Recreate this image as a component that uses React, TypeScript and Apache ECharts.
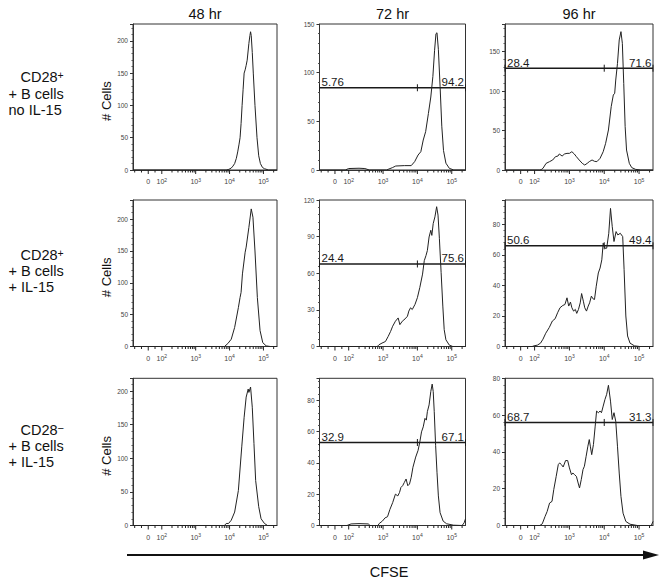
import React, { useEffect, useRef } from 'react';
import * as echarts from 'echarts';

// ---------- DATA ----------
const timepoints = ['48 hr', '72 hr', '96 hr'];
const conditionLines = [
  ['CD28', '+ B cells', 'no IL-15'],
  ['CD28', '+ B cells', '+ IL-15'],
  ['CD28', '+ B cells', '+ IL-15'],
];
const conditionSigns = ['+', '+', '\u2212'];
const yAxisName = '# Cells';
const xAxisTitle = 'CFSE';

// CFSE tick values (biexponential axis) and their labels: [base, exponent]
const xLabelValues = [0, 100, 1000, 10000, 100000];
const xLabelTexts = [['0', ''], ['10', '2'], ['10', '3'], ['10', '4'], ['10', '5']];
const xMajorTickValues = [0, 100, 1000, 10000, 100000];
const xMinorTickValues = [
  -100, -50, 50,
  200, 300, 400, 500, 600, 700, 800, 900,
  2000, 3000, 4000, 5000, 6000, 7000, 8000, 9000,
  20000, 30000, 40000, 50000, 60000, 70000, 80000, 90000,
  200000,
];

// y axis ranges per panel [row][col]
const yMax = [
  [226, 150, 185],
  [230, 120, 96],
  [219, 94, 80],
];
const yStep = [
  [50, 50, 50],
  [50, 30, 20],
  [50, 20, 20],
];

// gates: split position (log10 CFSE), y level, left %, right %
type Gate = { split: number; level: number; left: string; right: string } | null;
const gates: Gate[][] = [
  [null, { split: 4, level: 84.5, left: '5.76', right: '94.2' }, { split: 4, level: 129, left: '28.4', right: '71.6' }],
  [null, { split: 4, level: 67.6, left: '24.4', right: '75.6' }, { split: 4, level: 66, left: '50.6', right: '49.4' }],
  [null, { split: 4, level: 53, left: '32.9', right: '67.1' }, { split: 4, level: 56, left: '68.7', right: '31.3' }],
];

// histograms: [CFSE position in decades on the biexponential scale, # cells]
const histR1C1 = [[1.15,0],[3.9,0],[3.98,1],[4.05,3],[4.1,6],[4.15,10],[4.2,18],[4.24,28],[4.28,40],[4.31,50],[4.34,72],[4.37,100],[4.4,125],[4.43,150],[4.46,155],[4.49,162],[4.52,170],[4.57,196],[4.6,208],[4.62,214],[4.64,208],[4.67,182],[4.7,150],[4.75,100],[4.81,50],[4.86,22],[4.91,10],[4.97,4],[5.03,2],[5.15,0],[5.4,0]];
const histR1C2 = [[1.15,0],[1.9,0],[2.0,1.5],[2.3,1.8],[2.47,1.5],[2.6,0],[3.1,0],[3.17,1],[3.27,2.4],[3.37,4.1],[3.62,4.5],[3.82,4.5],[3.92,8.6],[4.02,15.4],[4.1,18.8],[4.17,30.8],[4.24,39.4],[4.32,58],[4.39,75],[4.45,96],[4.5,123],[4.54,140],[4.57,141],[4.61,124],[4.66,86],[4.71,45],[4.76,20],[4.83,7],[4.93,1.7],[5.06,0],[5.4,0]];
const histR1C3 = [[1.15,0],[2.15,0],[2.19,0.5],[2.24,2.1],[2.33,8.4],[2.43,10.6],[2.52,12.7],[2.6,16.9],[2.67,17.7],[2.71,20.3],[2.79,17.7],[2.86,20.3],[2.93,21.1],[3.0,21.1],[3.07,23.2],[3.14,20.3],[3.2,16.9],[3.28,12.7],[3.37,8.4],[3.44,6.3],[3.51,8.4],[3.57,10.6],[3.65,12.7],[3.72,11],[3.79,10.6],[3.88,14.8],[3.97,23.2],[4.04,33.8],[4.12,50.7],[4.2,80.3],[4.26,95],[4.3,97.2],[4.33,114],[4.38,135],[4.43,164.8],[4.48,175.3],[4.52,160.5],[4.56,109.8],[4.6,54.9],[4.64,25.3],[4.72,8.4],[4.79,3],[4.9,0.8],[5.05,0],[5.4,0]];
const histR2C1 = [[1.15,0],[3.85,0],[3.95,4.7],[4.05,11.5],[4.15,30],[4.26,61],[4.31,77],[4.34,85],[4.38,114],[4.46,148],[4.49,156],[4.57,187],[4.64,216],[4.69,203],[4.75,150],[4.82,77],[4.9,25],[4.98,6],[5.08,1],[5.2,0],[5.4,0]];
const histR2C2 = [[1.15,0],[2.83,0],[2.88,1.4],[2.97,2.8],[3.07,4.1],[3.15,8.3],[3.22,12.4],[3.28,16.6],[3.36,20.7],[3.44,23.4],[3.49,17.9],[3.56,20.7],[3.64,22.6],[3.71,24.8],[3.75,29],[3.8,31.7],[3.85,30.3],[3.93,34.5],[4.0,40],[4.07,48.3],[4.15,59.3],[4.2,70.3],[4.25,74.5],[4.29,78.6],[4.34,89.7],[4.39,95.2],[4.42,91],[4.46,100.7],[4.51,106.2],[4.56,114.5],[4.6,107.6],[4.64,88.3],[4.69,60.7],[4.74,33.1],[4.78,13.8],[4.83,5.5],[4.93,1.1],[5.03,0],[5.4,0]];
const histR2C3 = [[1.15,0],[1.93,0],[1.98,0.4],[2.08,0.9],[2.17,2.2],[2.24,4.8],[2.32,8.7],[2.42,12.4],[2.51,16.7],[2.59,18.2],[2.66,22.1],[2.73,25.4],[2.81,26.9],[2.87,27.5],[2.93,31.9],[2.98,26.5],[3.03,29.1],[3.07,25.4],[3.12,23.2],[3.17,24.3],[3.21,21.7],[3.26,24.3],[3.31,28.6],[3.35,34.7],[3.4,29.7],[3.44,25.4],[3.49,23.2],[3.54,26.5],[3.58,28.6],[3.63,33],[3.68,31.2],[3.72,30.8],[3.77,39.5],[3.83,48.2],[3.88,51.4],[3.93,56.8],[3.97,67.7],[4.02,64.4],[4.07,64.4],[4.13,74.2],[4.18,90.5],[4.23,78.5],[4.28,68.8],[4.34,75.3],[4.39,73.1],[4.46,74.2],[4.53,72],[4.57,50.3],[4.62,20],[4.67,6.9],[4.74,2.2],[4.87,0.4],[5.02,0],[5.4,0]];
const histR3C1 = [[1.15,0],[3.85,0],[3.9,3],[3.97,3],[4.05,7.9],[4.15,20],[4.26,52],[4.36,117],[4.43,161],[4.49,191],[4.55,203],[4.57,198],[4.62,206],[4.67,176],[4.72,122],[4.77,67],[4.86,28],[4.93,10],[5.03,3],[5.12,0],[5.4,0]];
const histR3C2 = [[1.15,0],[1.95,0],[2.07,1],[2.3,1.2],[2.57,1],[2.62,0],[2.85,0],[2.89,1.3],[2.98,2.8],[3.06,4.9],[3.13,5.6],[3.2,10.3],[3.28,14.6],[3.36,20],[3.43,18.9],[3.48,21.1],[3.52,24.3],[3.57,25.4],[3.62,27.5],[3.67,29.7],[3.72,25.4],[3.77,26.5],[3.82,30.8],[3.87,37.2],[3.95,43.7],[4.02,48],[4.07,53.3],[4.12,59.8],[4.17,63],[4.22,68.4],[4.26,67.3],[4.29,72.7],[4.34,77],[4.39,85.6],[4.43,90.3],[4.46,85.6],[4.49,72.7],[4.53,51.2],[4.57,34],[4.61,18.9],[4.66,8.2],[4.75,2.8],[4.85,1.1],[5.05,0.2],[5.3,0],[5.36,1.7],[5.4,4.3]];
const histR3C3 = [[1.15,0],[2.15,0],[2.22,0.9],[2.3,4.9],[2.36,7.6],[2.43,12.2],[2.5,13.1],[2.55,19.5],[2.62,26.7],[2.68,33.1],[2.72,34],[2.77,33.1],[2.82,31.8],[2.89,35.3],[2.95,35.3],[3.0,31.3],[3.06,27.6],[3.1,28.5],[3.15,27.6],[3.2,26.7],[3.25,23.1],[3.29,20.4],[3.34,24.9],[3.39,30.4],[3.43,32.2],[3.48,37.6],[3.53,43.1],[3.57,46.7],[3.6,43.1],[3.64,38.5],[3.69,44],[3.74,54],[3.78,62.2],[3.83,61.3],[3.88,62.2],[3.92,61.3],[3.97,64.9],[4.02,68.5],[4.07,71.3],[4.12,76.2],[4.18,67.6],[4.23,57.6],[4.28,61.3],[4.33,56.7],[4.38,43.1],[4.43,28.5],[4.48,15.8],[4.54,6.7],[4.62,2.2],[4.74,0.7],[4.95,0],[5.35,0],[5.4,2.2]];

const histograms = [
  [histR1C1, histR1C2, histR1C3],
  [histR2C1, histR2C2, histR2C3],
  [histR3C1, histR3C2, histR3C3],
];

// ---------- LAYOUT ----------
const FONT = '"Liberation Sans", Arial, Helvetica, sans-serif';
const X_MIN = 1.15;
const X_MAX = 5.4;
const colLeft = [133, 319.5, 505];
const colWidth = [144, 146, 148];
const rowTop = [24, 200, 378.3];
const rowHeight = [146, 146.5, 147.2];
const rowLabelY = [[77, 93.5, 110], [255, 271, 287], [430, 446, 462]];

// biexponential-like transform: linear near zero, log above 100
const toU = (v: number) => (v <= 100 ? 1.6 + (0.4 * v) / 100 : Math.log10(v));

function buildOption() {
  const grid: any[] = [];
  const xAxis: any[] = [];
  const yAxis: any[] = [];
  const series: any[] = [];
  const tickData = [
    ...xMajorTickValues.map((v) => [toU(v), 1]),
    ...xMinorTickValues.map((v) => [toU(v), 0]),
  ];

  for (let r = 0; r < 3; r++) {
    for (let c = 0; c < 3; c++) {
      const k = r * 3 + c;
      const step = yStep[r][c];
      grid.push({
        left: colLeft[c], top: rowTop[r], width: colWidth[c], height: rowHeight[r],
        show: true, borderColor: '#333', borderWidth: 1, backgroundColor: 'transparent',
      });
      xAxis.push({
        type: 'value', gridIndex: k, min: X_MIN, max: X_MAX, interval: 0.05,
        axisLine: { show: true, onZero: false, lineStyle: { color: '#333', width: 1 } },
        axisTick: { show: false },
        splitLine: { show: false },
        axisLabel: {
          margin: 7,
          formatter: (v: number) => {
            const i = xLabelValues.findIndex((x) => Math.abs(toU(x) - v) < 1e-6);
            if (i < 0) return '';
            const [b, e] = xLabelTexts[i];
            return e ? `{b|${b}}{s|${e}}` : `{b|${b}}`;
          },
          rich: {
            b: { fontSize: 7, color: '#444', fontFamily: FONT, lineHeight: 9 },
            s: { fontSize: 5, color: '#444', fontFamily: FONT, lineHeight: 5, verticalAlign: 'top' },
          },
        },
      });
      yAxis.push({
        type: 'value', gridIndex: k, min: 0, max: yMax[r][c], interval: step,
        axisLine: { show: true, lineStyle: { color: '#333', width: 1 } },
        axisTick: { show: true, length: 3, lineStyle: { color: '#333' } },
        minorTick: { show: true, splitNumber: 5, length: 1.5, lineStyle: { color: '#555' } },
        splitLine: { show: false },
        axisLabel: {
          fontSize: 6.5, color: '#444', margin: 5, fontFamily: FONT,
          formatter: (v: number) => (Math.abs(v % step) < 1e-9 ? String(v) : ''),
        },
      });
      series.push({
        type: 'line', xAxisIndex: k, yAxisIndex: k, data: histograms[r][c],
        showSymbol: false, symbol: 'none', silent: true, clip: true,
        lineStyle: { color: '#222', width: 1 },
      });
      series.push({
        type: 'custom', xAxisIndex: k, yAxisIndex: k, data: tickData, clip: false, silent: true,
        renderItem: (_p: any, api: any) => {
          const p = api.coord([api.value(0), 0]);
          const len = api.value(1) ? 4 : 2.5;
          return {
            type: 'line',
            shape: { x1: p[0], y1: p[1], x2: p[0], y2: p[1] + len },
            style: { stroke: '#222', lineWidth: 1 },
          };
        },
      });
      const gate = gates[r][c];
      if (gate) {
        series.push({
          type: 'custom', xAxisIndex: k, yAxisIndex: k, data: [[gate.split, gate.level]],
          clip: false, silent: true,
          renderItem: (_p: any, api: any) => {
            const split = api.value(0);
            const g = api.value(1);
            const a = api.coord([X_MIN, g]);
            const b = api.coord([split, g]);
            const e = api.coord([X_MAX, g]);
            const stroke = '#1a1a1a';
            const tick = (p: number[]) => ({
              type: 'line',
              shape: { x1: p[0], y1: p[1] - 3.5, x2: p[0], y2: p[1] + 3.5 },
              style: { stroke, lineWidth: 1 },
            });
            return {
              type: 'group',
              children: [
                { type: 'line', shape: { x1: a[0], y1: a[1], x2: e[0], y2: e[1] }, style: { stroke, lineWidth: 1.4 } },
                tick(a), tick(b), tick(e),
                {
                  type: 'text', x: a[0] + 2, y: a[1] + 0.5,
                  style: {
                    text: gate.left, fill: '#1a1a1a', font: `11.5px ${FONT}`,
                    align: 'left', verticalAlign: 'bottom', textAlign: 'left', textVerticalAlign: 'bottom',
                  },
                },
                {
                  type: 'text', x: e[0] - 1.5, y: e[1] + 0.5,
                  style: {
                    text: gate.right, fill: '#1a1a1a', font: `11.5px ${FONT}`,
                    align: 'right', verticalAlign: 'bottom', textAlign: 'right', textVerticalAlign: 'bottom',
                  },
                },
              ],
            };
          },
        });
      }
    }
  }

  const graphic: any[] = [];
  const txt = (x: number, y: number, text: string, size: number, align = 'center', extra: any = {}) => ({
    type: 'text', x, y, silent: true, ...extra,
    style: {
      text, fill: '#111', font: `${size}px ${FONT}`,
      align, verticalAlign: 'middle', textAlign: align, textVerticalAlign: 'middle',
    },
  });
  for (let c = 0; c < 3; c++) {
    graphic.push(txt(colLeft[c] + colWidth[c] / 2, 13.5, timepoints[c], 14.5));
  }
  for (let r = 0; r < 3; r++) {
    const ys = rowLabelY[r];
    graphic.push({
      type: 'text', x: 20.5, y: ys[0], silent: true,
      style: {
        text: `{a|${conditionLines[r][0]}}{s|${conditionSigns[r]}}`,
        align: 'left', verticalAlign: 'middle', textAlign: 'left', textVerticalAlign: 'middle',
        rich: {
          a: { fontSize: 14.5, fontFamily: FONT, fill: '#111', color: '#111', lineHeight: 16 },
          s: { fontSize: conditionSigns[r] === '+' ? 10.5 : 11, fontFamily: FONT, fill: '#111', color: '#111', lineHeight: 9, verticalAlign: 'top' },
        },
      },
    });
    graphic.push(txt(8.5, ys[1], conditionLines[r][1], 14.5, 'left'));
    graphic.push(txt(8.5, ys[2], conditionLines[r][2], 14.5, 'left'));
    graphic.push(txt(106, rowTop[r] + rowHeight[r] / 2 + 4, yAxisName, 13, 'center', { rotation: Math.PI / 2 }));
  }
  graphic.push({
    type: 'line', silent: true,
    shape: { x1: 127, y1: 555, x2: 646, y2: 555 },
    style: { stroke: '#111', lineWidth: 2 },
  });
  graphic.push({
    type: 'polygon', silent: true,
    shape: { points: [[643, 550.5], [659, 555], [643, 559.5]] },
    style: { fill: '#111' },
  });
  graphic.push(txt(389, 572, xAxisTitle, 14.5));

  return { animation: false, backgroundColor: '#fff', grid, xAxis, yAxis, series, graphic };
}

export default function App() {
  const ref = useRef<HTMLDivElement>(null);
  useEffect(() => {
    if (!ref.current) return;
    const chart = echarts.init(ref.current, null, { renderer: 'svg' });
    chart.setOption(buildOption() as any);
    return () => chart.dispose();
  }, []);
  return (
    <div
      ref={ref}
      style={{ position: 'absolute', left: 0, top: 0, width: 663, height: 581, background: '#fff' }}
    />
  );
}
